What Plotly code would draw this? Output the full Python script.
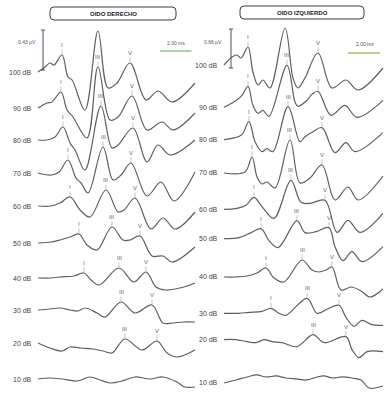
import numpy as np
import plotly.graph_objects as go

# ---------------- DATA ----------------
LEVELS = ["100 dB", "90 dB", "80 dB", "70 dB", "60 dB", "50 dB", "40 dB", "30 dB", "20 dB", "10 dB"]

# Right ear (OIDO DERECHO): time knots (ms) and amplitude (display units) per level
R_T = {
    "100 dB": [0, 0.45, 0.76, 1.02, 1.53, 1.91, 2.17, 2.99, 3.82, 4.46, 5.03, 5.86, 6.88, 7.64, 8.54, 10.0],
    "90 dB": [0, 0.57, 0.89, 1.46, 1.85, 2.23, 3.12, 3.82, 4.59, 5.1, 5.99, 6.94, 7.9, 8.6, 10],
    "80 dB": [0, 0.57, 1.08, 1.59, 2.04, 2.36, 2.99, 4.01, 4.71, 5.1, 6.05, 6.94, 7.64, 8.41, 10],
    "70 dB": [0, 0.83, 1.34, 1.91, 2.42, 2.74, 3.19, 4.14, 4.78, 5.29, 5.92, 6.94, 7.83, 8.66, 10],
    "60 dB": [0, 0.83, 1.4, 2.04, 2.68, 3.31, 4.33, 5.1, 5.48, 6.18, 7.2, 7.96, 8.73, 10],
    "50 dB": [0, 0.83, 1.4, 2.04, 2.61, 3.12, 3.76, 4.71, 5.41, 5.86, 6.5, 7.26, 7.96, 8.54, 10],
    "40 dB": [0, 0.83, 1.34, 2.29, 2.93, 3.38, 3.89, 5.16, 6.11, 6.88, 7.52, 8.15, 9.3, 10],
    "30 dB": [0, 0.76, 1.4, 2.04, 2.55, 2.99, 3.76, 4.27, 5.29, 6.18, 7.26, 7.96, 8.6, 9.24, 10],
    "20 dB": [0, 0.76, 1.53, 2.04, 2.68, 3.5, 4.14, 4.71, 5.54, 6.62, 7.58, 8.22, 8.85, 10],
    "10 dB": [0, 0.76, 1.53, 2.48, 3.31, 3.95, 4.59, 5.35, 6.18, 7.13, 7.96, 8.85, 9.36, 10],
}
R_AMP = {
    "100 dB": [2, 7, 11, 9, 19, -3, -6, -36, 43, -14, -9, 11, -26, -17, -28, -9],
    "90 dB": [0, 5, 6, 16, -2, -9, -30, 41, -12, -9, 12, -22, -14, -22, -5],
    "80 dB": [2, 2, 5, 15, -1, -8, -28, 36, -6, -3, 14, -20, -3, -13, 2],
    "70 dB": [3, 1, 4, 16, -2, -7, -17, 29, -4, 1, 13, -20, -6, -25, 4],
    "60 dB": [4, 4, 7, 13, 0, -7, 20, -2, 0, 12, -19, -8, -19, -2],
    "50 dB": [1, 2, 4, 7, 10, -1, -6, 17, 4, 4, 8, -12, -12, -18, -3],
    "40 dB": [0, 0, 1, 2, 5, -2, -7, 10, -4, 6, -9, -12, -9, -5],
    "30 dB": [2, 3, 4, 2, 1, 4, -1, -5, 10, -1, 7, -11, -11, -10, -10],
    "20 dB": [3, -2, -5, -1, -2, -3, -5, -7, 7, -4, 5, -7, -11, -4],
    "10 dB": [1, 2, 1, -1, 3, 0, -3, -1, 3, 1, 3, -2, -7, -7],
}
# wave latencies (ms), None = not marked
R_LAT_I = [1.53, 1.46, 1.59, 1.91, 2.04, 2.61, 2.93, None, None, None]
R_LAT_III = [None, 3.82, 4.01, 4.14, 4.33, 4.71, 5.16, 5.29, 5.54, None]
R_LAT_V = [5.86, 5.99, 6.05, 5.92, 6.18, 6.5, 6.88, 7.26, 7.58, None]

# Left ear (OIDO IZQUIERDO)
L_T = {
    "100 dB": [0, 0.5, 0.82, 1.07, 1.51, 1.82, 2.14, 2.45, 2.89, 3.84, 4.34, 4.65, 5.09, 5.91, 6.79, 7.67, 8.43, 10],
    "90 dB": [0, 0.69, 1.13, 1.51, 1.82, 2.14, 2.45, 2.83, 3.96, 4.47, 4.65, 5.22, 5.53, 5.91, 6.73, 7.61, 8.36, 10],
    "80 dB": [0, 0.69, 1.13, 1.57, 1.95, 2.39, 2.7, 3.08, 4.03, 4.78, 5.09, 5.6, 6.16, 6.98, 7.67, 8.24, 10],
    "70 dB": [0, 1.32, 1.76, 2.08, 2.39, 2.7, 3.21, 4.15, 4.78, 5.41, 6.16, 6.98, 7.8, 8.43, 10],
    "60 dB": [0, 0.82, 1.38, 1.89, 2.33, 3.14, 4.21, 4.84, 5.41, 6.35, 7.11, 7.8, 8.55, 10],
    "50 dB": [0, 0.94, 1.7, 2.33, 2.83, 3.4, 4.59, 5.09, 5.79, 6.6, 6.98, 7.48, 8.05, 8.68, 10],
    "40 dB": [0, 0.75, 1.45, 2.08, 2.64, 3.14, 3.77, 4.91, 5.53, 5.97, 6.42, 6.79, 7.36, 7.99, 8.62, 9.18, 10],
    "30 dB": [0, 0.94, 1.57, 2.39, 2.96, 3.46, 3.9, 5.22, 5.85, 6.48, 7.23, 7.67, 8.18, 8.68, 9.25, 10],
    "20 dB": [0, 0.75, 1.45, 2.01, 2.52, 3.02, 3.65, 4.59, 5.6, 6.29, 7.67, 8.05, 8.49, 9.0, 10],
    "10 dB": [0, 0.75, 1.45, 2.08, 2.64, 3.27, 3.9, 4.53, 5.22, 5.85, 6.29, 6.79, 7.42, 8.05, 8.62, 9.12, 10],
}
L_AMP = {
    "100 dB": [0, 8, 10, 7, 18, -7, -20, -15, -23, 37, -13, -23, -13, 12, -23, -15, -25, -3],
    "90 dB": [-7, -1, 5, 14, -5, -13, -10, -16, 35, -2, -6, 0, 6, 9, -15, -5, -17, 0],
    "80 dB": [-4, -2, 1, 14, -6, -16, -13, -16, 29, -6, -1, 4, 8, -17, -7, -16, 3],
    "70 dB": [-2, -1, 14, -6, -13, -11, -17, 31, -12, -7, 6, -29, -16, -29, -5],
    "60 dB": [-3, -2, 1, 9, 1, -12, 26, 4, 3, 6, -26, -14, -26, -7],
    "50 dB": [3, 4, 9, 13, 1, -6, 21, 9, 10, 14, -5, -19, -10, -20, -5],
    "40 dB": [0, 0, 1, 4, 9, -1, -5, 17, 7, 5, 7, 10, -13, -10, -14, -20, -12],
    "30 dB": [-1, -1, 0, 1, 4, -1, -3, 14, -1, 3, 7, -5, -14, -8, -12, -13],
    "20 dB": [8, 8, 6, 5, 8, 6, 5, 1, 13, 5, 11, -2, -10, -4, -4],
    "10 dB": [0, 3, 6, 8, 6, 7, 5, 4, 3, 6, 7, 5, 6, 5, 3, -5, -3],
}
L_LAT_I = [1.51, 1.51, 1.57, 1.76, 1.89, 2.33, 2.64, 2.96, None, None]
L_LAT_III = [None, 3.96, 4.03, 4.15, 4.21, 4.59, 4.91, 5.22, 5.6, None]
L_LAT_V = [5.91, 5.91, 6.16, 6.16, 6.35, 6.6, 6.79, 7.23, 7.67, None]

SCALE_R = "0.43 µV"
SCALE_L = "0.66 µV"
TIME_SCALE = "2.00 ms"
TITLE_R = "OIDO DERECHO"
TITLE_L = "OIDO IZQUIERDO"

# ---------------- LAYOUT CONSTANTS ----------------
PAGE_OFF = 0                      # body margin removed by post_script
W, H = 387 - PAGE_OFF, 414 - PAGE_OFF
STEP_R, STEP_L = 34.0, 35.33      # vertical stacking step (display units)
LINE = "#5e5e5e"
FONT = "Liberation Sans"

fig = go.Figure()


def add_panel(T, AMP, lat_i, lat_iii, lat_v, step, xa, ya):
    for i, lvl in enumerate(LEVELS):
        t = np.array(T[lvl], float)
        a = np.array(AMP[lvl], float) - i * step
        fig.add_trace(go.Scatter(x=t, y=a, mode="lines", xaxis=xa, yaxis=ya,
                                 line=dict(color=LINE, width=1.2, shape="spline", smoothing=1.0),
                                 hoverinfo="skip", showlegend=False))
        fig.add_annotation(x=-0.25, y=a[0], xref=xa, yref=ya, text=lvl, showarrow=False,
                           xanchor="right", yanchor="middle",
                           font=dict(family=FONT, size=7, color="#444"))
        for lat, name in ((lat_i[i], "I"), (lat_iii[i], "III"), (lat_v[i], "V")):
            if lat is None:
                continue
            yv = float(np.interp(lat, t, a))
            fig.add_annotation(x=lat, y=yv, xref=xa, yref=ya, text=name, showarrow=True,
                               arrowhead=0, arrowwidth=0.7, arrowcolor="#aaa", ax=0, ay=-10,
                               standoff=1, font=dict(family=FONT, size=6, color="#666"))


add_panel(R_T, R_AMP, R_LAT_I, R_LAT_III, R_LAT_V, STEP_R, "x", "y")
add_panel(L_T, L_AMP, L_LAT_I, L_LAT_III, L_LAT_V, STEP_L, "x2", "y2")

# scale bars
def vbar(xa, ya, x, y0, y1, color):
    fig.add_shape(type="line", xref=xa, yref=ya, x0=x, x1=x, y0=y0, y1=y1, line=dict(color=color, width=1))
    for yy in (y0, y1):
        fig.add_shape(type="line", xref=xa, yref=ya, x0=x - 0.13, x1=x + 0.13, y0=yy, y1=yy,
                      line=dict(color=color, width=1))

vbar("x", "y", 0.32, 4, 44, "#4a4f6a")
vbar("x2", "y2", 0.44, -3, 36, "#4a4f6a")
fig.add_shape(type="line", xref="x", yref="y", x0=7.77, x1=9.77, y0=23, y1=23, line=dict(color="#4caf50", width=1.2))
fig.add_shape(type="line", xref="x2", yref="y2", x0=7.8, x1=9.8, y0=12, y1=12, line=dict(color="#93a83c", width=1.2))

PX = lambda v: (v - PAGE_OFF) / W
PY = lambda v: 1 - (v - PAGE_OFF) / H

def ptxt(px, py, text, size=5, bold=False, color="#555"):
    fig.add_annotation(x=PX(px), y=PY(py), xref="paper", yref="paper",
                       text=f"<b>{text}</b>" if bold else text, xanchor="center", yanchor="middle",
                       showarrow=False, font=dict(family=FONT, size=size, color=color))

ptxt(27, 42, SCALE_R)
ptxt(213, 42, SCALE_L)
ptxt(176, 43, TIME_SCALE)
ptxt(365, 44, TIME_SCALE)

# title boxes
def rrect(x0, y0, x1, y1, r):
    X, Y = PX, PY
    p = (f"M {X(x0+r)},{Y(y0)} L {X(x1-r)},{Y(y0)} Q {X(x1)},{Y(y0)} {X(x1)},{Y(y0+r)} "
         f"L {X(x1)},{Y(y1-r)} Q {X(x1)},{Y(y1)} {X(x1-r)},{Y(y1)} L {X(x0+r)},{Y(y1)} "
         f"Q {X(x0)},{Y(y1)} {X(x0)},{Y(y1-r)} L {X(x0)},{Y(y0+r)} Q {X(x0)},{Y(y0)} {X(x0+r)},{Y(y0)} Z")
    fig.add_shape(type="path", xref="paper", yref="paper", path=p, line=dict(color="#3a3a4a", width=1))

rrect(50, 7, 176, 20, 4)
rrect(240, 6, 364, 19, 4)
ptxt(113, 14, TITLE_R, size=6, bold=True, color="#222")
ptxt(302, 13, TITLE_L, size=6, bold=True, color="#222")

ax_off = dict(visible=False, showgrid=False, zeroline=False, fixedrange=True)
x0r, x0l = 38 - PAGE_OFF, 224 - PAGE_OFF
y0r, y0l = 74 - PAGE_OFF, 65 - PAGE_OFF
fig.update_layout(
    width=W, height=H, margin=dict(l=0, r=0, t=0, b=0),
    paper_bgcolor="white", plot_bgcolor="white",
    xaxis=dict(domain=[0, 1], range=[-x0r / 15.7, (W - x0r) / 15.7], **ax_off),
    yaxis=dict(domain=[0, 1], range=[y0r - H, y0r], **ax_off),
    xaxis2=dict(domain=[0, 1], range=[-x0l / 15.9, (W - x0l) / 15.9], overlaying="x", anchor="y2", **ax_off),
    yaxis2=dict(domain=[0, 1], range=[y0l - H, y0l], overlaying="y", anchor="x2", **ax_off),
)

fig.write_html("out.html", config={"displayModeBar": False, "staticPlot": True},
               post_script="document.body.style.margin='0';document.body.style.overflow='hidden';")
